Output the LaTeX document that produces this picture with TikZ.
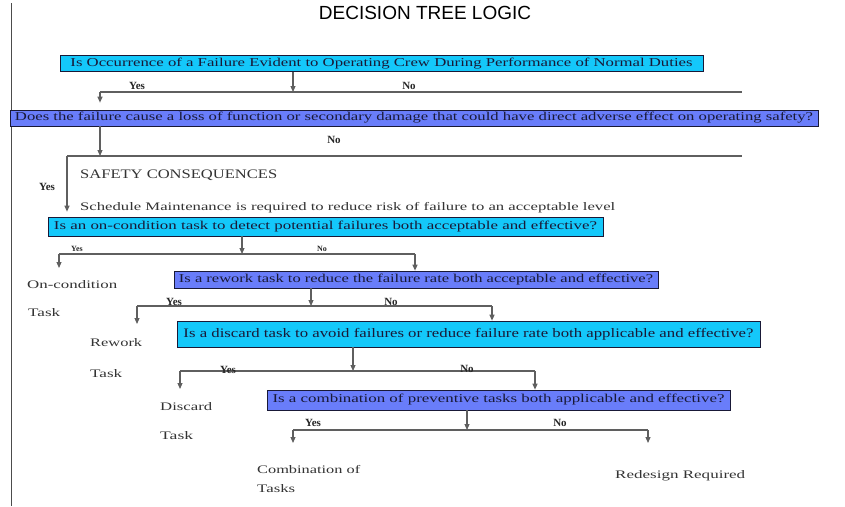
\documentclass[tikz,border=0pt]{standalone}
\usepackage{graphicx}
\usepackage{fontspec}
\setmainfont{Liberation Serif}
\newfontfamily\titlefont{Liberation Sans}
\usetikzlibrary{arrows.meta}

\definecolor{boxcyan}{RGB}{20,200,250}
\definecolor{boxblue}{RGB}{105,125,250}
\definecolor{linegray}{RGB}{95,95,95}
\definecolor{inkdark}{RGB}{25,25,55}

% Text auf Breite ziehen
\newcommand{\fitw}[2]{\resizebox{#1}{\height}{#2}}

\tikzset{
  qbox/.style={draw=inkdark, line width=0.7pt, inner sep=0pt, text=inkdark,
    font=\fontsize{12}{13}\selectfont},
  qcyan/.style={qbox, fill=boxcyan},
  qblue/.style={qbox, fill=boxblue},
  ln/.style={draw=linegray, line width=1.1pt},
  arr/.style={ln, -{Triangle[length=6pt,width=5pt]}},
  yesno/.style={inner sep=0pt, font=\bfseries\fontsize{11}{12}\selectfont, text=black!85},
  tiny/.style={inner sep=0pt, font=\bfseries\fontsize{8}{9}\selectfont, text=black!85},
  res/.style={inner sep=0pt, anchor=west, text=black!80, font=\fontsize{11.5}{12}\selectfont}
}

\begin{document}
\begin{tikzpicture}[x=1pt, y=-1pt]
    \useasboundingbox (0,0) rectangle (845,506);

    \draw[black!70, line width=0.8pt] (11,3) -- (11,506);
    \node[inner sep=0pt, font=\titlefont\fontsize{19}{20}\selectfont] (title) at (425,13) {DECISION TREE LOGIC};

    % 質問の箱
    \node[qcyan, minimum width=643, minimum height=16] (q1) at (381.5,63.5)
      {\fitw{622pt}{Is Occurrence of a Failure Evident to Operating Crew During Performance of Normal Duties}};
    \node[qblue, minimum width=808, minimum height=16] (q2) at (414,118)
      {\fitw{798pt}{Does the failure cause a loss of function or secondary damage that could have direct adverse effect on operating safety?}};
    \node[qcyan, minimum width=555, minimum height=19] (q3) at (325.5,226.5)
      {\fitw{543pt}{Is an on-condition task to detect potential failures both acceptable and effective?}};
    \node[qblue, minimum width=484, minimum height=17] (q4) at (416,279.5)
      {\fitw{474pt}{Is a rework task to reduce the failure rate both acceptable and effective?}};
    \node[qcyan, minimum width=583, minimum height=26, font=\fontsize{13}{14}\selectfont] (q5) at (468.5,334)
      {\fitw{570pt}{Is a discard task to avoid failures or reduce failure rate both applicable and effective?}};
    \node[qblue, minimum width=463, minimum height=20] (q6) at (498.5,400)
      {\fitw{452pt}{Is a combination of preventive tasks both applicable and effective?}};

    % 分岐点
    \coordinate (j1) at (293,92);  \coordinate (y1) at (100,92);  \coordinate (n1) at (742,92);
    \coordinate (j2) at (100,156); \coordinate (y2) at (67,156);  \coordinate (n2) at (742,156);
    \coordinate (j3) at (242,254); \coordinate (y3) at (59,254);  \coordinate (n3) at (415,254);
    \coordinate (j4) at (311,306); \coordinate (y4) at (137,306); \coordinate (n4) at (492,306);
    \coordinate (j5) at (353,371); \coordinate (y5) at (180,371); \coordinate (n5) at (535,371);
    \coordinate (j6) at (467,430); \coordinate (y6) at (293,430); \coordinate (n6) at (648,430);
    \coordinate (e3) at (59,268);  \coordinate (e4) at (137,324);
    \coordinate (e5) at (180,389); \coordinate (e6) at (293,443); \coordinate (f6) at (648,443);

    % 結果
    \node[res] (safety) at (80,175) {\fitw{197pt}{\fontsize{13}{14}\selectfont SAFETY CONSEQUENCES}};
    \node[res] (sched) at (80,208) {\fitw{535pt}{Schedule Maintenance is required to reduce risk of failure to an acceptable level}};
    \node[res] (oncond) at (27,285) {\fitw{90pt}{On-condition}};
    \node[res] (oncondb) at (28,313) {\fitw{32pt}{Task}};
    \node[res] (rework) at (90,343) {\fitw{52pt}{Rework}};
    \node[res] (reworkb) at (90,374) {\fitw{32pt}{Task}};
    \node[res] (discard) at (160,407) {\fitw{52pt}{Discard}};
    \node[res] (discardb) at (160,436) {\fitw{33pt}{Task}};
    \node[res] (combi) at (257,469) {\fitw{103pt}{Combination of}};
    \node[res] (combib) at (257,489) {\fitw{38pt}{Tasks}};
    \node[res] (redesign) at (615,476) {\fitw{130pt}{Redesign Required}};

    % 線
    \draw[arr] (q1.south -| j1) -- (j1);
    \draw[ln] (y1) -- (n1);
    \draw[arr, shorten >=7pt] (y1) -- (q2.north -| y1);

    \draw[arr] (q2.south -| j2) -- (j2);
    \draw[ln] (y2) -- (n2);
    \draw[arr, shorten >=5pt] (y2) -- (q3.north -| y2);

    \draw[arr] (q3.south -| j3) -- (j3);
    \draw[ln] (y3) -- (n3);
    \draw[arr] (y3) -- (e3);
    \draw[arr] (n3) -- (q4.north -| n3);

    \draw[arr] (q4.south -| j4) -- (j4);
    \draw[ln] (y4) -- (n4);
    \draw[arr] (y4) -- (e4);
    \draw[arr] (n4) -- (q5.north -| n4);

    \draw[arr] (q5.south -| j5) -- (j5);
    \draw[ln] (y5) -- (n5);
    \draw[arr] (y5) -- (e5);
    \draw[arr] (n5) -- (q6.north -| n5);

    \draw[arr] (q6.south -| j6) -- (j6);
    \draw[ln] (y6) -- (n6);
    \draw[arr] (y6) -- (e6);
    \draw[arr] (n6) -- (f6);

    % Yes / No
    \node[yesno] (yes1) at (137,86) {Yes};
    \node[yesno] (no1) at (409,86) {No};
    \node[yesno] (no2) at (334,140) {No};
    \node[yesno] (yes2) at (47,187) {Yes};
    \node[tiny] (yes3) at (77,249) {Yes};
    \node[tiny] (no3) at (322,249) {No};
    \node[yesno] (yes4) at (174,302) {Yes};
    \node[yesno] (no4) at (391,302) {No};
    \node[yesno] (yes5) at (228,370) {Yes};
    \node[yesno] (no5) at (467,369) {No};
    \node[yesno] (yes6) at (313,423) {Yes};
    \node[yesno] (no6) at (560,423) {No};

  \end{tikzpicture}
\end{document}
